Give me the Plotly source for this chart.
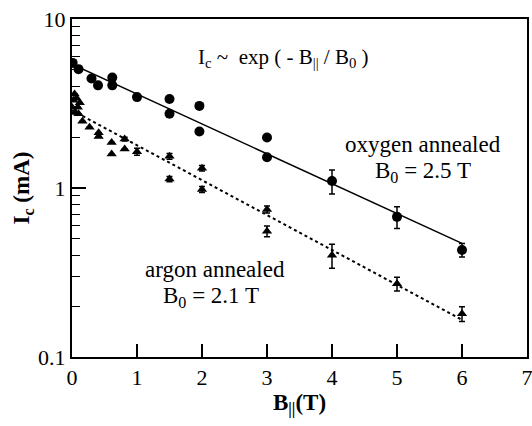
import plotly.graph_objects as go

# ---- data ----
oxygen_B = [0.01, 0.1, 0.3, 0.4, 0.62, 0.62, 1.0, 1.5, 1.5, 1.96, 1.96, 3.0, 3.0, 4.0, 5.0, 6.0]
oxygen_Ic = [5.5, 5.05, 4.45, 4.05, 4.5, 4.05, 3.45, 3.36, 2.75, 3.06, 2.16, 1.99, 1.52, 1.1, 0.675, 0.43]
oxygen_err = [0, 0, 0, 0, 0, 0, 0, 0, 0, 0, 0, 0, 0, 0.18, 0.1, 0.04]

argon_B = [0.0, 0.02, 0.04, 0.05, 0.07, 0.09, 0.1, 0.12, 0.16, 0.27, 0.41, 0.41,
           0.61, 0.61, 0.81, 0.81, 1.0, 1.5, 1.5, 2.0, 2.0, 3.0, 3.0, 4.0, 5.0, 6.0]
argon_Ic = [3.0, 3.3, 3.6, 2.8, 3.4, 3.0, 2.75, 3.2, 2.48, 2.29, 2.12, 2.02,
            1.86, 1.59, 1.95, 1.70, 1.64, 1.54, 1.13, 1.31, 0.98, 0.747, 0.555, 0.40, 0.271, 0.180]
argon_err = [0, 0, 0, 0, 0, 0, 0, 0, 0, 0, 0, 0,
             0, 0, 0.05, 0, 0.08, 0.06, 0.04, 0.05, 0.04, 0.035, 0.04, 0.065, 0.025, 0.018]

fit_B = [0.0, 6.0]
oxygen_fit = [5.4, 0.47]
argon_fit = [2.88, 0.166]

x_ticks = [0, 1, 2, 3, 4, 5, 6, 7]
y_ticks = [0.1, 1, 10]
y_ticktext = ["0.1", "1", "10"]
y_minor = [0.2, 0.3, 0.4, 0.5, 0.6, 0.7, 0.8, 0.9, 2, 3, 4, 5, 6, 7, 8, 9]

FONT = "Liberation Serif"

fig = go.Figure()
fig.add_trace(go.Scatter(x=fit_B, y=oxygen_fit, mode="lines",
                         line=dict(color="black", width=1.5), showlegend=False))
fig.add_trace(go.Scatter(x=fit_B, y=argon_fit, mode="lines",
                         line=dict(color="black", width=2, dash="dot"), showlegend=False))
fig.add_trace(go.Scatter(x=oxygen_B, y=oxygen_Ic, mode="markers",
                         marker=dict(symbol="circle", size=10, color="black"),
                         error_y=dict(type="data", array=oxygen_err, color="black",
                                      thickness=1.5, width=3),
                         showlegend=False))
fig.add_trace(go.Scatter(x=argon_B, y=argon_Ic, mode="markers",
                         marker=dict(symbol="triangle-up", size=9, color="black"),
                         error_y=dict(type="data", array=argon_err, color="black",
                                      thickness=1.5, width=3),
                         showlegend=False))

fig.add_annotation(x=0.272, y=0.885, xref="paper", yref="paper",
                   text="I<sub>c</sub> ~  exp ( - B<sub>||</sub> / B<sub>0</sub> )",
                   showarrow=False, xanchor="left", yanchor="middle",
                   font=dict(family=FONT, size=21, color="black"))
fig.add_annotation(x=0.772, y=0.628, xref="paper", yref="paper",
                   text="oxygen annealed", showarrow=False,
                   xanchor="center", yanchor="middle",
                   font=dict(family=FONT, size=23, color="black"))
fig.add_annotation(x=0.772, y=0.548, xref="paper", yref="paper",
                   text="B<sub>0</sub> = 2.5 T", showarrow=False,
                   xanchor="center", yanchor="middle",
                   font=dict(family=FONT, size=23, color="black"))
fig.add_annotation(x=0.155, y=0.26, xref="paper", yref="paper",
                   text="argon annealed", showarrow=False,
                   xanchor="left", yanchor="middle",
                   font=dict(family=FONT, size=23, color="black"))
fig.add_annotation(x=0.196, y=0.178, xref="paper", yref="paper",
                   text="B<sub>0</sub> = 2.1 T", showarrow=False,
                   xanchor="left", yanchor="middle",
                   font=dict(family=FONT, size=23, color="black"))

fig.update_xaxes(range=[0, 7], tickvals=x_ticks, ticks="inside", ticklen=13,
                 tickwidth=1.5, tickcolor="black", ticklabeloverflow="allow",
                 automargin=False,
                 showline=True, linecolor="black", linewidth=2, mirror=True,
                 showgrid=False, zeroline=False,
                 tickfont=dict(family=FONT, size=22, color="black"),
                 title=dict(text="<b>B<sub>||</sub>(T)</b>", standoff=4,
                            font=dict(family=FONT, size=23, color="black")))
fig.update_yaxes(type="log", range=[-1, 1], tickvals=y_ticks, ticktext=y_ticktext,
                 ticks="inside", ticklen=14, tickwidth=1.5, tickcolor="black",
                 ticklabeloverflow="allow",
                 minor=dict(tickmode="array", tickvals=y_minor, ticks="inside",
                            ticklen=8, tickwidth=1.2, tickcolor="black",
                            showgrid=False),
                 showline=True, linecolor="black", linewidth=2, mirror=True,
                 showgrid=False, zeroline=False,
                 tickfont=dict(family=FONT, size=22, color="black"),
                 title=dict(text="<b>I<sub>c</sub> (mA)</b>", standoff=2,
                            font=dict(family=FONT, size=23, color="black")))

fig.update_layout(width=532, height=426,
                  margin=dict(l=72, r=3, t=19, b=69),
                  plot_bgcolor="white", paper_bgcolor="white",
                  showlegend=False)

fig.write_html("out.html")
